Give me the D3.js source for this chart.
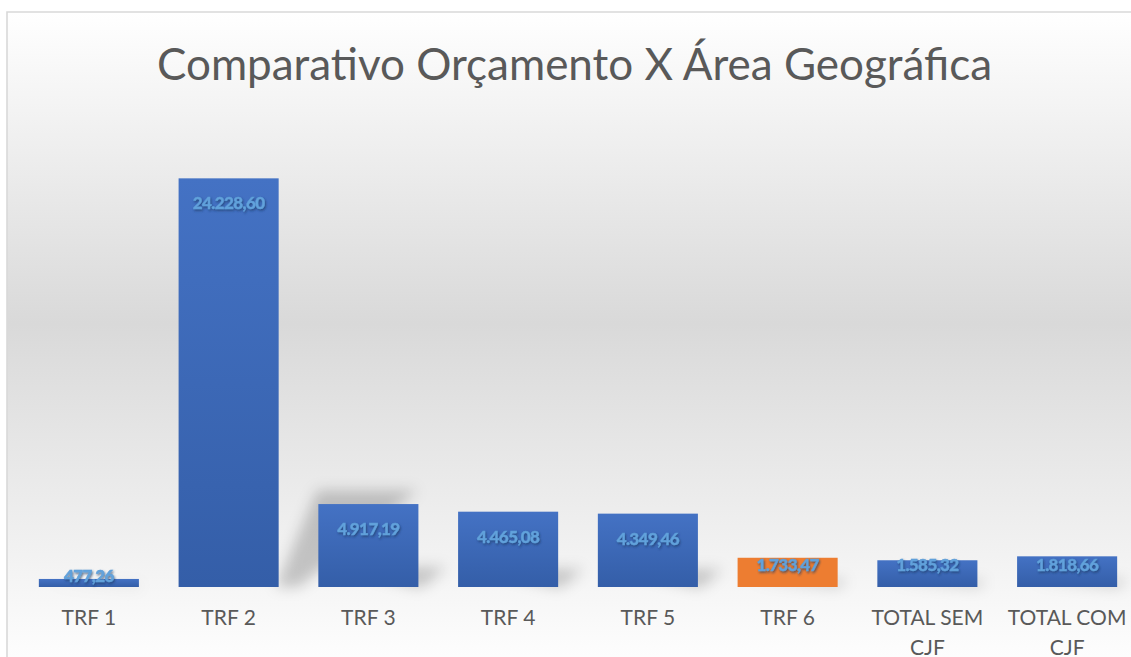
<!DOCTYPE html>
<html>
<head>
<meta charset="utf-8">
<script src="https://cdn.jsdelivr.net/npm/d3@7"></script>
<style>
  html, body { margin: 0; padding: 0; background: #ffffff; }
  svg { display: block; }
</style>
</head>
<body>
<svg id="chart" width="1131" height="657"></svg>
<script>
// ---- data ----
const title = "Comparativo Orçamento X Área Geográfica";
const categories = ["TRF 1", "TRF 2", "TRF 3", "TRF 4", "TRF 5", "TRF 6", "TOTAL SEM CJF", "TOTAL COM CJF"];
const categoryLines = [["TRF 1"], ["TRF 2"], ["TRF 3"], ["TRF 4"], ["TRF 5"], ["TRF 6"], ["TOTAL SEM", "CJF"], ["TOTAL COM", "CJF"]];
const values = [477.26, 24228.60, 4917.19, 4465.08, 4349.46, 1733.47, 1585.32, 1818.66];
const valueLabels = ["477,26", "24.228,60", "4.917,19", "4.465,08", "4.349,46", "1.733,47", "1.585,32", "1.818,66"];
const highlighted = ["TRF 6"];
const yMax = 30000;

// ---- layout ----
const W = 1131, H = 657;
const svg = d3.select("#chart");
const defs = svg.append("defs");

// chart-area background gradient
const bg = defs.append("linearGradient").attr("id", "bgGrad")
  .attr("gradientUnits", "userSpaceOnUse").attr("x1", 0).attr("y1", 12).attr("x2", 0).attr("y2", 675);
bg.append("stop").attr("offset", "0").attr("stop-color", "#ffffff");
bg.append("stop").attr("offset", "0.47").attr("stop-color", "#d9d9d9");
bg.append("stop").attr("offset", "1").attr("stop-color", "#ffffff");

const barGrad = defs.append("linearGradient").attr("id", "barGrad")
  .attr("x1", 0).attr("y1", 0).attr("x2", 0).attr("y2", 1);
barGrad.append("stop").attr("offset", "0").attr("stop-color", "#4472c4");
barGrad.append("stop").attr("offset", "1").attr("stop-color", "#345ea8");

const blur = defs.append("filter").attr("id", "shadowBlur")
  .attr("x", "-40%").attr("y", "-40%").attr("width", "180%").attr("height", "180%");
blur.append("feGaussianBlur").attr("stdDeviation", 7);

const txtShadow = defs.append("filter").attr("id", "txtShadow")
  .attr("x", "-10%").attr("y", "-30%").attr("width", "130%").attr("height", "170%");
txtShadow.append("feDropShadow").attr("dx", 1).attr("dy", 1.5).attr("stdDeviation", 1.3)
  .attr("flood-color", "#1f3864").attr("flood-opacity", 0.7);

// background
svg.append("rect").attr("x", 7).attr("y", 12).attr("width", W - 7).attr("height", H - 12)
  .attr("fill", "url(#bgGrad)");
svg.append("path").attr("d", `M7,${H} L7,12 L${W},12`)
  .attr("fill", "none").attr("stroke", "#d9d9d9").attr("stroke-width", 1.6);

// title
svg.append("text")
  .attr("x", 574.5).attr("y", 80)
  .attr("text-anchor", "middle")
  .attr("font-family", "Lato, 'Open Sans', sans-serif")
  .attr("font-size", 44)
  .attr("fill", "#595959")
  .attr("textLength", 835).attr("lengthAdjust", "spacingAndGlyphs")
  .text(title);

// scales
const x = d3.scaleBand().domain(categories).range([19, 1137]).paddingInner(0.284).paddingOuter(0.142);
const y = d3.scaleLinear().domain([0, yMax]).range([587, 81]);
const base = y(0);

const data = categories.map((c, i) => ({ c, v: values[i], label: valueLabels[i], lines: categoryLines[i] }));

// perspective shadows
svg.append("g").attr("filter", "url(#shadowBlur)")
  .selectAll("path").data(data).join("path")
  .attr("d", d => {
    const x0 = x(d.c), x1 = x0 + x.bandwidth();
    const h = base - y(d.v);
    const sx = 0.34 * h, sy = 0.237 * h;
    return `M${x1 - 3},${base} L${x1 + 0.05 * h},${base} L${x1 + sx},${base - sy} L${x0 + sx},${base - sy} Z`;
  })
  .attr("fill", "#000").attr("fill-opacity", 0.2);

// bars
svg.append("g").selectAll("rect").data(data).join("rect")
  .attr("x", d => x(d.c))
  .attr("y", d => y(d.v))
  .attr("width", x.bandwidth())
  .attr("height", d => base - y(d.v))
  .attr("fill", d => highlighted.includes(d.c) ? "#ed7d31" : "url(#barGrad)");

// value labels
svg.append("g").selectAll("text").data(data).join("text")
  .attr("x", d => x(d.c) + x.bandwidth() / 2)
  .attr("y", d => {
    const top = y(d.v);
    return Math.min(top + 25, Math.max(base - 22, top - 3));
  })
  .attr("dy", "0.35em")
  .attr("text-anchor", "middle")
  .attr("font-family", "Lato, 'Open Sans', sans-serif")
  .attr("font-weight", 900)
  .attr("font-size", 17)
  .attr("letter-spacing", -0.6)
  .attr("fill", "#62a2dc")
  .attr("stroke", "#5b9bd5").attr("stroke-width", 0.4)
  .attr("filter", "url(#txtShadow)")
  .text(d => d.label);

// category labels
const cat = svg.append("g").selectAll("text").data(data).join("text")
  .attr("text-anchor", "middle")
  .attr("font-family", "Lato, 'Open Sans', sans-serif")
  .attr("font-size", 21)
  .attr("fill", "#595959");
cat.each(function(d) {
  const t = d3.select(this);
  d.lines.forEach((ln, j) => {
    t.append("tspan")
      .attr("x", x(d.c) + x.bandwidth() / 2)
      .attr("y", 625 + j * 29.5)
      .text(ln);
  });
});
</script>
</body>
</html>
